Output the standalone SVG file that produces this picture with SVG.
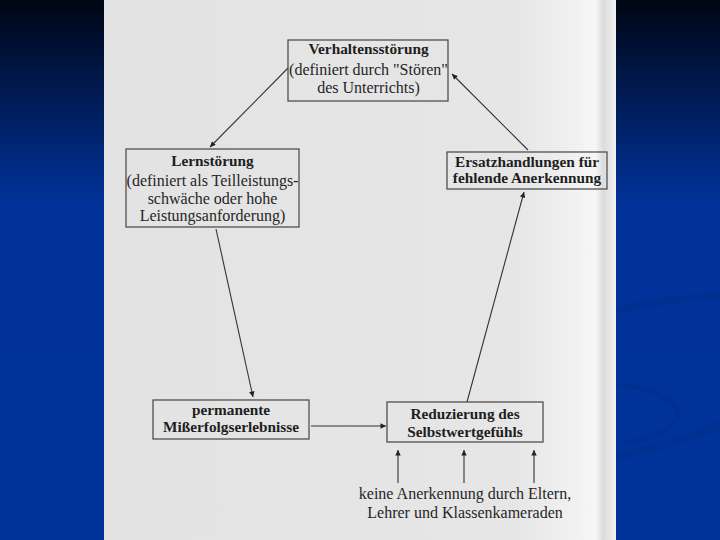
<svg xmlns="http://www.w3.org/2000/svg" width="720" height="540" viewBox="0 0 720 540">
  <defs>
    <linearGradient id="bg" x1="0" y1="0" x2="0" y2="1">
      <stop offset="0" stop-color="#000512"/>
      <stop offset="0.12" stop-color="#001440"/>
      <stop offset="0.38" stop-color="#00329a"/>
      <stop offset="1" stop-color="#003399"/>
    </linearGradient>
    <linearGradient id="page" x1="104" y1="0" x2="616" y2="0" gradientUnits="userSpaceOnUse">
      <stop offset="0" stop-color="#e3e3e3"/>
      <stop offset="0.8" stop-color="#e6e6e6"/>
      <stop offset="0.9" stop-color="#efefef"/>
      <stop offset="0.96" stop-color="#f6f6f6"/>
      <stop offset="0.975" stop-color="#dcdcdc"/>
      <stop offset="0.99" stop-color="#e8e8e8"/>
      <stop offset="1" stop-color="#f4f4f4"/>
    </linearGradient>
    <marker id="ah" viewBox="0 0 10 10" refX="10" refY="5" markerWidth="8" markerHeight="5.5" markerUnits="userSpaceOnUse" orient="auto">
      <path d="M0,0 L10,5 L0,10 Z" fill="#222"/>
    </marker>
    <style>
      .box { fill: none; stroke: #505050; stroke-width: 1.3; }
      .b { font-family: "Liberation Serif", "Times New Roman", serif; font-weight: bold; font-size: 15.3px; fill: #1e1e1e; text-anchor: middle; }
      .r { font-family: "Liberation Serif", "Times New Roman", serif; font-size: 16px; fill: #262626; text-anchor: middle; }
      .c { fill: none; stroke: #333; stroke-width: 1.1; marker-end: url(#ah); }
      .sw { fill: none; stroke: #002d8a; stroke-linecap: round; }
    </style>
  </defs>

  <rect x="0" y="0" width="720" height="540" fill="url(#bg)"/>
  <g id="swooshes" opacity="0.45">
    <path class="sw" d="M618,310 C660,300 690,298 720,296" stroke-width="7"/>
    <path class="sw" d="M622,385 C665,390 690,410 672,425 C660,435 640,440 625,442" stroke-width="5"/>
    <path class="sw" d="M616,457 C660,448 695,435 720,425" stroke-width="8"/>
  </g>

  <rect x="104" y="0" width="512" height="540" fill="url(#page)"/>

  <g id="connectors">
    <line class="c" x1="288" y1="68" x2="210" y2="147"/>
    <line class="c" x1="528" y1="150" x2="452" y2="74"/>
    <line class="c" x1="216" y1="229" x2="253" y2="397"/>
    <line class="c" x1="467" y1="402" x2="524" y2="192"/>
    <line class="c" x1="311" y1="426" x2="386" y2="426"/>
    <line class="c" x1="398" y1="483" x2="398" y2="450"/>
    <line class="c" x1="464" y1="483" x2="464" y2="450"/>
    <line class="c" x1="534" y1="483" x2="534" y2="450"/>
  </g>

  <g id="verhaltensstoerung">
    <rect class="box" x="288" y="40" width="160" height="61"/>
    <text class="b" x="368.5" y="54">Verhaltensstörung</text>
    <text class="r" x="368.5" y="75">(definiert durch "Stören"</text>
    <text class="r" x="368.5" y="93">des Unterrichts)</text>
  </g>

  <g id="lernstoerung">
    <rect class="box" x="126" y="149" width="173" height="78"/>
    <text class="b" x="212.5" y="166">Lernstörung</text>
    <text class="r" x="212.5" y="186">(definiert als Teilleistungs-</text>
    <text class="r" x="212.5" y="204">schwäche oder hohe</text>
    <text class="r" x="212.5" y="221">Leistungsanforderung)</text>
  </g>

  <g id="ersatzhandlungen">
    <rect class="box" x="447" y="152" width="160" height="37"/>
    <text class="b" x="527" y="167">Ersatzhandlungen für</text>
    <text class="b" x="527" y="183">fehlende Anerkennung</text>
  </g>

  <g id="misserfolg">
    <rect class="box" x="153" y="400" width="156" height="39"/>
    <text class="b" x="231" y="415">permanente</text>
    <text class="b" x="231" y="432">Mißerfolgserlebnisse</text>
  </g>

  <g id="selbstwert">
    <rect class="box" x="387" y="402" width="156" height="40"/>
    <text class="b" x="465" y="419">Reduzierung des</text>
    <text class="b" x="465" y="437">Selbstwertgefühls</text>
  </g>

  <g id="anerkennung">
    <text class="r" x="465" y="499" font-size="15.7">keine Anerkennung durch Eltern,</text>
    <text class="r" x="465" y="518" font-size="15.7">Lehrer und Klassenkameraden</text>
  </g>
</svg>
